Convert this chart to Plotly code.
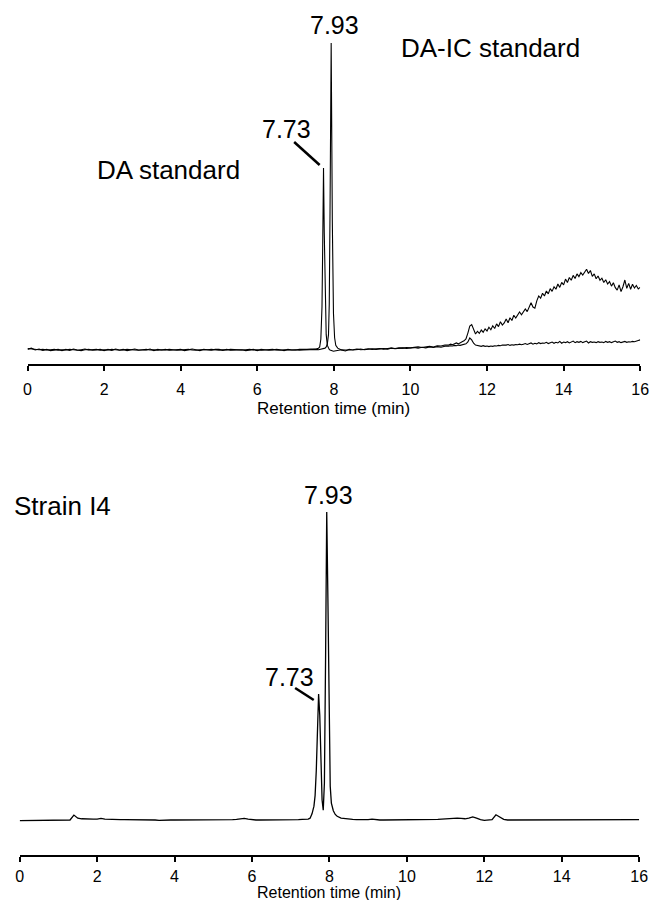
import numpy as np
import plotly.graph_objects as go

# ---------------- data ----------------
# Upper panel: two standards, shared sampling times
top_t_pre = np.round(np.arange(0.0, 7.45, 0.1), 2)
top_t_peak = [7.50, 7.55, 7.60, 7.63, 7.66, 7.69, 7.71, 7.73, 7.75, 7.77, 7.80, 7.83,
              7.86, 7.88, 7.90, 7.93, 7.96, 7.99, 8.02, 8.05, 8.10, 8.15, 8.20, 8.30]
top_t_mid = np.round(np.arange(8.4, 10.95, 0.1), 2)
top_t_late = np.round(np.arange(11.0, 16.025, 0.05), 2)

da_pre = [0.5, 0.3, 0.2, 0.1, 0.2, 0.0, 0.1, 0.2, -0.1, 0.1,
          0.0, 0.2, 0.1, -0.1, 0.1, 0.3, 0.0, 0.1, 0.2, -0.1,
          0.1, 0.0, 0.2, 0.1, -0.1, 0.0, 0.2, 0.1, 0.0, -0.1,
          0.1, 0.2, 0.0, 0.1, -0.1, 0.1, 0.0, 0.2, 0.1, -0.1,
          0.0, 0.1, 0.2, 0.0, -0.1, 0.1, 0.0, 0.1, 0.2, 0.0,
          -0.1, 0.1, 0.0, 0.2, 0.1, -0.1, 0.0, 0.1, 0.2, 0.0,
          0.1, -0.1, 0.0, 0.1, 0.2, 0.0, -0.1, 0.1, 0.0, 0.1,
          0.0, 0.2, 0.1, 0.2, 0.3]
da_peak = [0.3, 0.4, 0.6, 1.0, 3.5, 14.0, 35.0, 59.3, 38.0, 18.0, 5.0, 1.5,
           0.5, 0.2, 0.0, -0.2, -0.4, -0.4, -0.3, -0.2, -0.1, 0.0, 0.1, 0.0]
da_mid = [0.0, 0.1, 0.3, 0.1, 0.2, 0.4, 0.2, 0.3, 0.5, 0.3, 0.4, 0.6, 0.4,
          0.5, 0.7, 0.5, 0.6, 0.8, 0.6, 0.9, 0.7, 1.0, 0.8, 1.1, 0.9, 1.2]
da_late = [1.2, 1.4, 1.3, 1.5, 1.4, 1.6, 1.5, 1.7, 1.8, 2.0,
           2.6, 3.9, 3.3, 2.2, 1.6, 1.4, 1.3, 1.2, 1.4, 1.2,
           1.3, 1.1, 1.3, 1.2, 1.4, 1.3, 1.5, 1.4, 1.6, 1.5,
           1.6, 1.8, 1.5, 1.7, 1.6, 1.8, 1.7, 1.9, 1.7, 1.9,
           2.1, 1.8, 2.0, 2.3, 1.9, 2.2, 2.0, 2.4, 2.1, 2.3,
           2.2, 2.5, 2.1, 2.4, 2.6, 2.2, 2.5, 2.3, 2.8, 2.2,
           2.6, 2.4, 2.7, 2.3, 2.6, 2.9, 2.4, 2.7, 2.5, 2.8,
           2.4, 2.6, 2.9, 2.3, 2.7, 2.5, 2.6, 2.4, 2.7, 2.5,
           2.6, 2.4, 2.8, 2.5, 2.7, 2.4, 2.6, 2.9, 2.5, 2.7,
           2.4, 2.6, 2.8, 2.5, 2.7, 2.6, 2.8, 2.7, 3.0, 3.1,
           3.3]

daic_pre = [0.2, 0.6, 0.0, 0.3, -0.1, 0.2, -0.2, 0.1, 0.2, -0.2,
            0.2, -0.1, 0.3, 0.0, -0.2, 0.1, 0.2, -0.1, 0.0, 0.2,
            -0.2, 0.2, -0.1, 0.3, 0.0, 0.2, -0.2, 0.1, 0.3, 0.0,
            -0.1, 0.0, 0.3, -0.2, 0.2, 0.0, 0.2, -0.1, 0.0, 0.2,
            0.2, -0.2, 0.0, 0.3, 0.1, -0.2, 0.2, 0.0, -0.1, 0.2,
            0.2, -0.1, 0.2, -0.1, 0.0, 0.2, 0.1, -0.2, 0.0, 0.2,
            -0.2, 0.2, 0.1, -0.1, 0.0, 0.2, 0.1, -0.2, 0.2, 0.0,
            0.1, -0.1, 0.0, 0.1, 0.2]
daic_peak = [0.1, 0.2, 0.1, 0.2, 0.1, 0.2, 0.3, 0.3, 0.4, 0.6, 1.0, 2.0,
             5.0, 15.0, 45.0, 100.0, 42.0, 12.0, 4.0, 1.5, 0.6, 0.2, 0.0, -0.3]
daic_mid = [0.2, 0.0, 0.2, 0.3, 0.1, 0.3, 0.4, 0.2, 0.4, 0.5, 0.3, 0.6, 0.5,
            0.7, 0.6, 0.8, 0.7, 0.9, 1.0, 0.8, 1.1, 1.2, 1.0, 1.4, 1.3, 1.6]
daic_late = [1.6, 1.9, 1.7, 2.1, 2.3, 2.0, 2.5, 2.7, 3.0, 3.6,
             5.5, 7.8, 8.3, 6.8, 5.2, 6.1, 5.4, 6.5, 5.8, 6.9,
             6.2, 7.4, 6.6, 7.9, 7.0, 8.5, 7.6, 9.2, 8.1, 8.8,
             10.1, 8.9, 10.5, 9.6, 11.3, 10.4, 11.6, 12.4, 11.5, 12.6,
             13.4, 12.5, 13.9, 15.4, 14.0, 13.6, 16.0, 17.6, 16.9, 18.5,
             17.6, 19.2, 18.3, 20.0, 19.1, 20.6, 19.8, 21.5, 20.4, 22.0,
             21.2, 23.1, 22.0, 23.6, 22.7, 24.3, 23.3, 24.8, 23.9, 25.2,
             24.4, 25.6, 26.3, 24.9, 25.9, 24.0, 24.8, 23.2, 24.1, 22.7,
             23.4, 22.0, 22.9, 21.5, 22.3, 20.8, 21.9, 20.3, 19.5, 21.2,
             19.0, 20.6, 22.8, 20.1, 21.7, 19.8, 21.4, 20.2, 21.0, 19.9,
             20.4]

# Lower panel: strain I4 sample
bot_t_pre = np.round(np.arange(0.0, 7.45, 0.1), 2)
bot_t_peak = [7.45, 7.50, 7.55, 7.60, 7.63, 7.66, 7.69, 7.72, 7.75, 7.78, 7.81, 7.84,
              7.87, 7.90, 7.93, 7.96, 7.99, 8.02, 8.05, 8.10, 8.15, 8.20, 8.30]
bot_t_post = np.round(np.arange(8.4, 16.05, 0.1), 2)

i4_pre = [-0.2, -0.2, -0.1, -0.2, -0.1, -0.1, -0.2, -0.1, -0.1, -0.1,
          -0.1, 0.0, -0.1, 0.0, 1.6, 0.6, 0.4, 0.3, 0.4, 0.3,
          0.3, 0.5, 0.3, 0.2, 0.2, 0.2, 0.1, 0.1, 0.1, 0.0,
          0.2, 0.1, 0.0, 0.0, 0.0, 0.0, -0.1, 0.0, 0.0, 0.0,
          0.0, 0.0, -0.1, 0.0, 0.0, 0.0, 0.0, -0.1, 0.0, 0.0,
          0.0, 0.0, 0.0, 0.1, 0.0, 0.1, 0.2, 0.4, 0.5, 0.3,
          0.1, 0.0, 0.0, 0.0, -0.1, 0.0, 0.0, 0.0, 0.0, 0.0,
          0.0, 0.1, 0.1, 0.2, 0.3]
i4_peak = [0.3, 0.6, 2.0, 4.5, 8.0, 16.0, 30.0, 40.9, 34.0, 18.0, 6.5, 3.2,
           12.0, 52.0, 100.0, 72.0, 30.0, 11.0, 5.5, 3.0, 1.8, 1.2, 0.6]
i4_post = [0.4, 0.3, 0.2, 0.1, 0.1, 0.0,
           0.1, 0.3, 0.1, 0.0, 0.0, 0.0, 0.1, 0.0, 0.0, 0.0,
           0.1, 0.0, 0.1, 0.0, 0.1, 0.1, 0.0, 0.1, 0.2, 0.3,
           0.4, 0.5, 0.6, 0.6, 0.5, 0.4, 0.6, 1.0, 0.6, 0.1,
           -0.1, 0.0, 0.1, 1.7, 0.9, 0.2, 0.0, 0.0, -0.1, 0.0,
           0.0, 0.1, 0.0, 0.1, 0.0, 0.0, 0.1, 0.0, 0.1, 0.0,
           0.0, 0.1, 0.0, 0.0, 0.1, 0.0, 0.0, 0.1, 0.0, 0.0,
           0.0, 0.1, 0.0, 0.0, 0.1, 0.0, 0.0, 0.1, 0.0, 0.1, 0.1]

x_ticks = [0, 2, 4, 6, 8, 10, 12, 14, 16]
axis_title = "Retention time (min)"

# ---------------- figure ----------------
W, H = 658, 900
FONT = "Liberation Sans, Arial, Helvetica, sans-serif"


def px(x):
    return x / W


def py(y):
    return 1 - y / H


top_t = list(top_t_pre) + top_t_peak + list(top_t_mid) + list(top_t_late)
da_y = da_pre + da_peak + da_mid + da_late
daic_y = daic_pre + daic_peak + daic_mid + daic_late
bot_t = list(bot_t_pre) + bot_t_peak + list(bot_t_post)
i4_y = i4_pre + i4_peak + i4_post

fig = go.Figure()
line = dict(color="black", width=1.1)
fig.add_trace(go.Scatter(x=top_t, y=da_y, mode="lines", line=line,
                         name="DA standard", xaxis="x", yaxis="y"))
fig.add_trace(go.Scatter(x=top_t, y=daic_y, mode="lines", line=line,
                         name="DA-IC standard", xaxis="x", yaxis="y"))
fig.add_trace(go.Scatter(x=bot_t, y=i4_y, mode="lines", line=dict(color="black", width=1.3),
                         name="Strain I4", xaxis="x2", yaxis="y2"))

# pixel geometry of the panels
top_axis_px, top_base_px, top_top_px, top_scale = 364, 350, 30, 3.07
bot_axis_px, bot_base_px, bot_top_px, bot_scale = 855, 820, 470, 3.08

xcommon = dict(range=[0, 16], tickvals=x_ticks, showline=True, linecolor="black",
               linewidth=1.5, ticks="outside", ticklen=5, tickwidth=1.5,
               tickcolor="black", showgrid=False, zeroline=False,
               ticklabeloverflow="allow",
               tickfont=dict(family=FONT, size=16, color="black"))

fig.update_layout(
    width=W, height=H, margin=dict(l=0, r=0, t=0, b=0), autosize=False,
    paper_bgcolor="white", plot_bgcolor="white", showlegend=False,
    xaxis=dict(domain=[px(24), px(649)], anchor="y", ticklabelstandoff=5, **xcommon),
    yaxis=dict(domain=[py(top_axis_px), py(top_top_px)], visible=False,
               range=[-(top_axis_px - top_base_px) / top_scale,
                      (top_base_px - top_top_px) / top_scale]),
    xaxis2=dict(domain=[px(16), px(648)], anchor="y2", ticklabelstandoff=1, **xcommon),
    yaxis2=dict(domain=[py(bot_axis_px), py(bot_top_px)], visible=False,
                range=[-(bot_axis_px - bot_base_px) / bot_scale,
                       (bot_base_px - bot_top_px) / bot_scale]),
)


def label(text, x, y, size):
    fig.add_annotation(text=text, x=px(x), y=py(y), xref="paper", yref="paper",
                       showarrow=False, xanchor="center", yanchor="middle",
                       font=dict(family=FONT, size=size, color="black"))


label("7.93", 337, 25, 25)
label("7.73", 288, 129, 25)
label("DA standard", 168, 170, 26)
label("DA-IC standard", 496, 48, 26)
label(axis_title, 336, 408, 17)

label("7.93", 331, 495, 25)
label("7.73", 291, 677, 25)
label("Strain I4", 60, 506, 26)
label(axis_title, 332, 892, 16)

for (x0, y0, x1, y1) in [(296, 142, 322, 165), (297, 688, 316, 700)]:
    fig.add_shape(type="line", xref="paper", yref="paper",
                  x0=px(x0), y0=py(y0), x1=px(x1), y1=py(y1),
                  line=dict(color="black", width=2.5))

fig.write_html(
    "out.html",
    config={"responsive": False, "displayModeBar": False},
    post_script="document.body.style.margin='0px';"
                "document.body.style.overflow='hidden';"
                "document.documentElement.style.overflow='hidden';",
)
